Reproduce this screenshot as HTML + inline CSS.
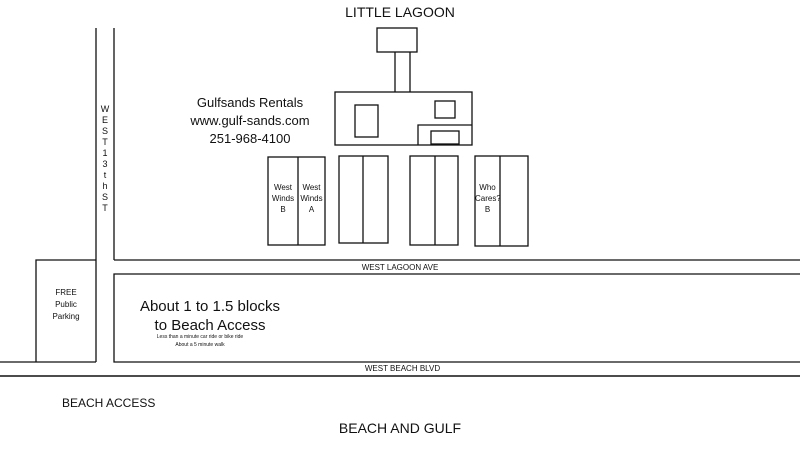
<html><head><style>
body{margin:0;width:800px;height:466px;background:#fff;position:relative;overflow:hidden;font-family:"Liberation Sans",sans-serif;color:#111}
.t{position:absolute;white-space:nowrap;text-align:center}
</style></head><body>
<svg width="800" height="466" style="position:absolute;left:0;top:0" fill="none" stroke="#111" stroke-width="1.3">
<line x1="96" y1="28" x2="96" y2="362"/>
<line x1="114" y1="28" x2="114" y2="260"/>
<line x1="114" y1="260" x2="800" y2="260"/>
<polyline points="800,274 114,274 114,362 800,362"/>
<polyline points="0,362 96,362"/>
<polyline points="36,362 36,260 96,260"/>
<line x1="0" y1="376" x2="800" y2="376" stroke-width="1.6"/>
<rect x="377" y="28" width="40" height="24"/>
<line x1="395" y1="52" x2="395" y2="92"/><line x1="410" y1="52" x2="410" y2="92"/>
<rect x="335" y="92" width="137" height="53"/>
<rect x="355" y="105" width="23" height="32"/>
<rect x="435" y="101" width="20" height="17"/>
<polyline points="472,125 418,125 418,145"/>
<rect x="431" y="131" width="28" height="13"/>
<rect x="268" y="157" width="57" height="88"/><line x1="298" y1="157" x2="298" y2="245"/>
<rect x="339" y="156" width="49" height="87"/><line x1="363" y1="156" x2="363" y2="243"/>
<rect x="410" y="156" width="48" height="89"/><line x1="435" y1="156" x2="435" y2="245"/>
<rect x="475" y="156" width="53" height="90"/><line x1="500" y1="156" x2="500" y2="246"/>
</svg>
<div class="t" style="left:340px;top:4px;width:120px;font-size:14px">LITTLE LAGOON</div>
<div class="t" style="left:180px;top:94px;width:140px;font-size:13px;line-height:18px">Gulfsands Rentals<br>www.gulf-sands.com<br>251-968-4100</div>
<div class="t" style="left:99px;top:104px;width:12px;font-size:9px;line-height:11px">W<br>E<br>S<br>T<br>1<br>3<br>t<br>h<br>S<br>T</div>
<div class="t" style="left:268px;top:182px;width:30px;font-size:8px;line-height:11px">West<br>Winds<br>B</div>
<div class="t" style="left:298px;top:182px;width:27px;font-size:8px;line-height:11px">West<br>Winds<br>A</div>
<div class="t" style="left:475px;top:182px;width:25px;font-size:8px;line-height:11px">Who<br>Cares?<br>B</div>
<div class="t" style="left:330px;top:263px;width:140px;font-size:8px">WEST LAGOON AVE</div>
<div class="t" style="left:36px;top:287px;width:60px;font-size:8px;line-height:12px">FREE<br>Public<br>Parking</div>
<div class="t" style="left:120px;top:297px;width:180px;font-size:15px;line-height:19px">About 1 to 1.5 blocks<br>to Beach Access</div>
<div class="t" style="left:130px;top:333px;width:140px;font-size:5px;line-height:8px">Less than a minute car ride or bike ride<br>About a 5 minute walk</div>
<div class="t" style="left:340px;top:364px;width:125px;font-size:8px">WEST BEACH BLVD</div>
<div class="t" style="left:62px;top:396px;font-size:12px">BEACH ACCESS</div>
<div class="t" style="left:320px;top:420px;width:160px;font-size:14px">BEACH AND GULF</div>
</body></html>
